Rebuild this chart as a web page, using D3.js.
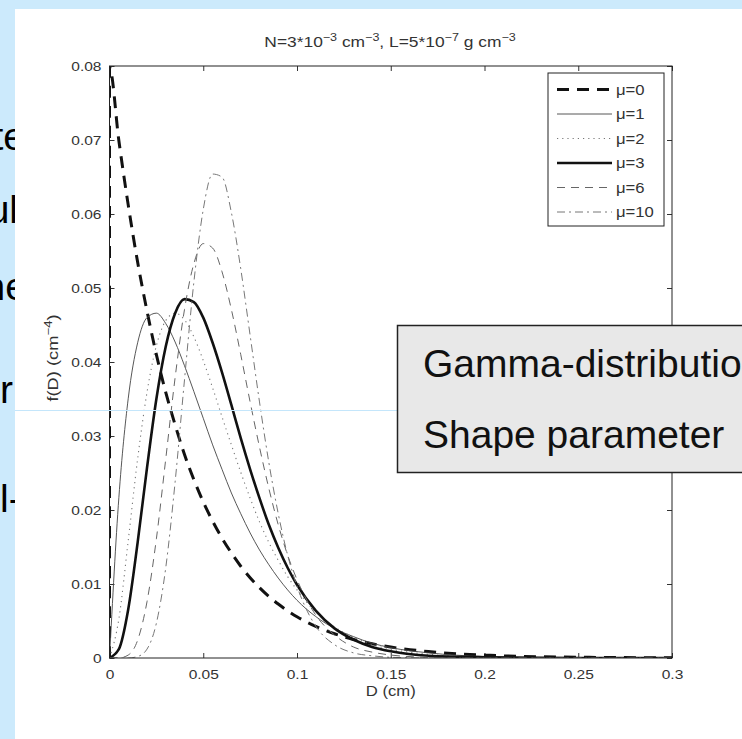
<!DOCTYPE html>
<html lang="en">
<head>
  <meta charset="UTF-8">
  <title>Gamma size distribution</title>
  <style>
    body { margin: 0; background: #cceafc; }
    svg { display: block; }
    text { font-family: "Liberation Sans", Arial, sans-serif; }
  </style>
</head>
<body>
  <svg id="slide" width="742" height="739"></svg>

  <script src="https://cdn.jsdelivr.net/npm/d3@7"></script>
  <script>
    // Diameters (cm) the curves are read at. First point doubles D=0 so mu=0 runs up the axis like the original
    const diameters = [0, 0, 0.005, 0.01, 0.015, 0.02, 0.025, 0.03, 0.035, 0.04, 0.045, 0.05, 0.055, 0.06, 0.065,
      0.07, 0.075, 0.08, 0.085, 0.09, 0.095, 0.1, 0.11, 0.12, 0.13, 0.14, 0.15, 0.17, 0.2, 0.25, 0.3]

    // f(D) for each shape parameter
    const fMu0 = [0, 0.0798, 0.0699, 0.0612, 0.0535, 0.0469, 0.0410, 0.0359, 0.0315, 0.0275, 0.0241, 0.0211, 0.0185,
      0.0162, 0.0142, 0.0124, 0.01085, 0.0095, 0.00832, 0.00729, 0.00638, 0.00558, 0.00428, 0.00328, 0.00251,
      0.00193, 0.00148, 0.00087, 0.00039, 0.0001, 0.00003]
    const fMu1 = [0, 0, 0.0217, 0.0351, 0.0426, 0.0460, 0.0466, 0.0452, 0.0427, 0.0395, 0.0360, 0.0324, 0.0288,
      0.0255, 0.0223, 0.0195, 0.0169, 0.0146, 0.0126, 0.0108, 0.0092, 0.0078, 0.0056, 0.0040, 0.0029, 0.0020,
      0.0014, 0.0007, 0.0002, 0, 0]
    const fMu2 = [0, 0, 0.0053, 0.0159, 0.0269, 0.0359, 0.0422, 0.0456, 0.0466, 0.0457, 0.0434, 0.0402, 0.0365,
      0.0326, 0.0288, 0.0251, 0.0216, 0.0184, 0.0156, 0.0132, 0.0110, 0.0092, 0.0062, 0.0042, 0.0028, 0.0018,
      0.0012, 0.0005, 0.0001, 0, 0]
    const fMu3 = [0, 0, 0.0012, 0.0066, 0.0156, 0.0257, 0.0350, 0.0421, 0.0466, 0.0485, 0.0481, 0.0460, 0.0426,
      0.0386, 0.0342, 0.0297, 0.0255, 0.0216, 0.0180, 0.0149, 0.0122, 0.0099, 0.0064, 0.0040, 0.0025, 0.0015,
      0.0009, 0.0003, 0.0001, 0, 0]
    const fMu6 = [0, 0, 0.00001, 0.0004, 0.0024, 0.0076, 0.0161, 0.0269, 0.0379, 0.0471, 0.0533, 0.0560, 0.0554,
      0.0522, 0.0471, 0.0410, 0.0346, 0.0285, 0.0229, 0.0180, 0.0139, 0.0106, 0.0058, 0.0031, 0.0015, 0.0008,
      0.0004, 0.0001, 0, 0, 0]
    const fMu10 = [0, 0, 0, 0, 0.0002, 0.0012, 0.0047, 0.0122, 0.0238, 0.0376, 0.0508, 0.0606, 0.0654, 0.0650,
      0.0602, 0.0526, 0.0436, 0.0346, 0.0264, 0.0195, 0.0139, 0.0097, 0.0043, 0.0018, 0.0007, 0.0003, 0.0001,
      0, 0, 0, 0]

    const legendLabels = ['μ=0', 'μ=1', 'μ=2', 'μ=3', 'μ=6', 'μ=10']
    const xTicks = [0, 0.05, 0.1, 0.15, 0.2, 0.25, 0.3]
    const xTickLabels = ['0', '0.05', '0.1', '0.15', '0.2', '0.25', '0.3']
    const yTicks = [0, 0.01, 0.02, 0.03, 0.04, 0.05, 0.06, 0.07, 0.08]
    const yTickLabels = ['0', '0.01', '0.02', '0.03', '0.04', '0.05', '0.06', '0.07', '0.08']

    // line looks, same order as legendLabels
    const lineStyles = [
      { color: '#111', width: 3, dash: '12,8' },
      { color: '#444', width: 0.9, dash: null },
      { color: '#777', width: 1.1, dash: '1.2,4' },
      { color: '#111', width: 2.6, dash: null },
      { color: '#666', width: 1, dash: '8,6' },
      { color: '#777', width: 1, dash: '8,4,2,4' }
    ]

    const allValues = [fMu0, fMu1, fMu2, fMu3, fMu6, fMu10]
    const series = legendLabels.map((label, i) => ({
      label,
      points: diameters.map((d, j) => ({ d, f: allValues[i][j] })),
      style: lineStyles[i]
    }))

    // the scanned figure is a bit wider than tall, so its text is stretched sideways
    const stretch = 1.15
    const chartFont = 13.5

    const svg = d3.select('#slide')

    // slide background
    svg.append('rect').attr('width', 742).attr('height', 739).attr('fill', '#cceafc')

    // slide text that sits behind the picture, only the first letters show
    const slideText = svg.append('g')
      .attr('font-size', 39)
      .attr('fill', '#000')
    slideText.append('text').attr('x', 25).attr('y', 150).attr('text-anchor', 'end').text('te')
    slideText.append('text').attr('x', 18).attr('y', 223).attr('text-anchor', 'end').text('ul')
    slideText.append('text').attr('x', 27).attr('y', 300).attr('text-anchor', 'end').text('ne')
    slideText.append('text').attr('x', 0).attr('y', 403).text('r')
    slideText.append('text').attr('x', 0).attr('y', 512).text('l-')

    // the picture
    svg.append('rect')
      .attr('x', 15).attr('y', 9)
      .attr('width', 727).attr('height', 730)
      .attr('fill', '#fff')

    const plot = { left: 109.5, right: 672, top: 66, bottom: 658 }

    const xscale = d3.scaleLinear().domain([0, 0.3]).range([plot.left, plot.right])
    const yscale = d3.scaleLinear().domain([0, 0.08]).range([plot.bottom, plot.top])

    svg.append('clipPath').attr('id', 'plot-clip')
      .append('rect')
      .attr('x', plot.left).attr('y', plot.top - 2)
      .attr('width', plot.right - plot.left).attr('height', plot.bottom - plot.top + 2)

    // Axes, ticks inside like matlab
    const bottomAxis = d3.axisBottom(xscale).tickValues(xTicks)
      .tickFormat((d, i) => xTickLabels[i]).tickSize(-5).tickSizeOuter(0).tickPadding(11)
    const topAxis = d3.axisTop(xscale).tickValues(xTicks)
      .tickFormat('').tickSize(-5).tickSizeOuter(0)
    const leftAxis = d3.axisLeft(yscale).tickValues(yTicks)
      .tickFormat((d, i) => yTickLabels[i]).tickSize(-5).tickSizeOuter(0).tickPadding(8 / stretch)
    const rightAxis = d3.axisRight(yscale).tickValues(yTicks)
      .tickFormat('').tickSize(-5).tickSizeOuter(0)

    const axes = [
      svg.append('g').attr('transform', `translate(0, ${plot.bottom})`).call(bottomAxis),
      svg.append('g').attr('transform', `translate(0, ${plot.top})`).call(topAxis),
      svg.append('g').attr('transform', `translate(${plot.left}, 0)`).call(leftAxis),
      svg.append('g').attr('transform', `translate(${plot.right}, 0)`).call(rightAxis)
    ]
    axes.forEach(a => {
      a.select('.domain').remove()
      a.selectAll('line').attr('stroke', '#333')
      a.selectAll('text')
        .attr('font-family', '"Liberation Sans", Arial, sans-serif')
        .attr('font-size', chartFont).attr('fill', '#333')
        .attr('transform', `scale(${stretch}, 1)`)
    })

    // Curves
    const line = d3.line()
      .x(p => xscale(p.d))
      .y(p => yscale(p.f))
      .curve(d3.curveMonotoneX)

    svg.append('g')
      .attr('clip-path', 'url(#plot-clip)')
      .selectAll('path')
      .data(series)
      .enter()
      .append('path')
      .attr('d', s => line(s.points))
      .attr('fill', 'none')
      .attr('stroke', s => s.style.color)
      .attr('stroke-width', s => s.style.width)
      .attr('stroke-dasharray', s => s.style.dash)

    // frame
    svg.append('rect')
      .attr('x', plot.left).attr('y', plot.top)
      .attr('width', plot.right - plot.left).attr('height', plot.bottom - plot.top)
      .attr('fill', 'none').attr('stroke', '#222').attr('stroke-width', 1)

    const sup = (parent, s, size) => {
      parent.append('tspan').attr('font-size', size * 0.72).attr('dy', -size * 0.4).text(s)
    }
    const normal = (parent, s, size) => {
      parent.append('tspan').attr('font-size', size).attr('dy', size * 0.4).text(s)
    }

    // Title
    const titleSize = 14.5
    const title = svg.append('text')
      .attr('transform', `translate(390, 47) scale(${stretch + 0.05}, 1)`)
      .attr('text-anchor', 'middle')
      .attr('font-size', titleSize).attr('fill', '#333')
    title.append('tspan').text('N=3*10')
    sup(title, '−3', titleSize)
    normal(title, ' cm', titleSize)
    sup(title, '−3', titleSize)
    normal(title, ', L=5*10', titleSize)
    sup(title, '−7', titleSize)
    normal(title, ' g cm', titleSize)
    sup(title, '−3', titleSize)

    // Axis labels
    svg.append('text')
      .attr('transform', `translate(${(plot.left + plot.right) / 2}, 696) scale(${stretch}, 1)`)
      .attr('text-anchor', 'middle')
      .attr('font-size', 14.5).attr('fill', '#333')
      .text('D (cm)')

    const ylabelSize = 15
    const ylabel = svg.append('text')
      .attr('transform', 'translate(58, 358) rotate(-90) scale(1.22, 1)')
      .attr('text-anchor', 'middle')
      .attr('font-size', ylabelSize).attr('fill', '#333')
    ylabel.append('tspan').text('f(D) (cm')
    sup(ylabel, '−4', ylabelSize)
    normal(ylabel, ')', ylabelSize)

    // Legend
    const legend = svg.append('g')
    legend.append('rect')
      .attr('x', 548).attr('y', 73).attr('width', 116).attr('height', 153)
      .attr('fill', '#fff').attr('stroke', '#222').attr('stroke-width', 1)

    const legendRows = legend.selectAll('g.row')
      .data(series)
      .enter()
      .append('g')
      .attr('class', 'row')
      .attr('transform', (s, i) => `translate(0, ${89.5 + i * 24.5})`)
    legendRows.append('line')
      .attr('x1', 557).attr('x2', 612)
      .attr('stroke', s => s.style.color)
      .attr('stroke-width', s => s.style.width)
      .attr('stroke-dasharray', s => s.style.dash)
    legendRows.append('text')
      .attr('transform', `translate(616, 5) scale(${stretch}, 1)`)
      .attr('font-size', 14.5).attr('fill', '#333')
      .text(s => s.label)

    // slide guide line drawn over the picture
    svg.append('line')
      .attr('x1', 15).attr('x2', 397)
      .attr('y1', 410.5).attr('y2', 410.5)
      .attr('stroke', '#c4e6fb').attr('stroke-width', 1)

    // text box on the slide
    svg.append('rect')
      .attr('x', 397.5).attr('y', 325.5)
      .attr('width', 360).attr('height', 147)
      .attr('fill', '#e8e8e8').attr('stroke', '#222').attr('stroke-width', 1.5)
    svg.append('text')
      .attr('x', 423).attr('y', 377)
      .attr('font-size', 39).attr('fill', '#111')
      .text('Gamma-distribution')
    svg.append('text')
      .attr('x', 423).attr('y', 448)
      .attr('font-size', 39).attr('fill', '#111')
      .text('Shape parameter')
  </script>
</body>
</html>
